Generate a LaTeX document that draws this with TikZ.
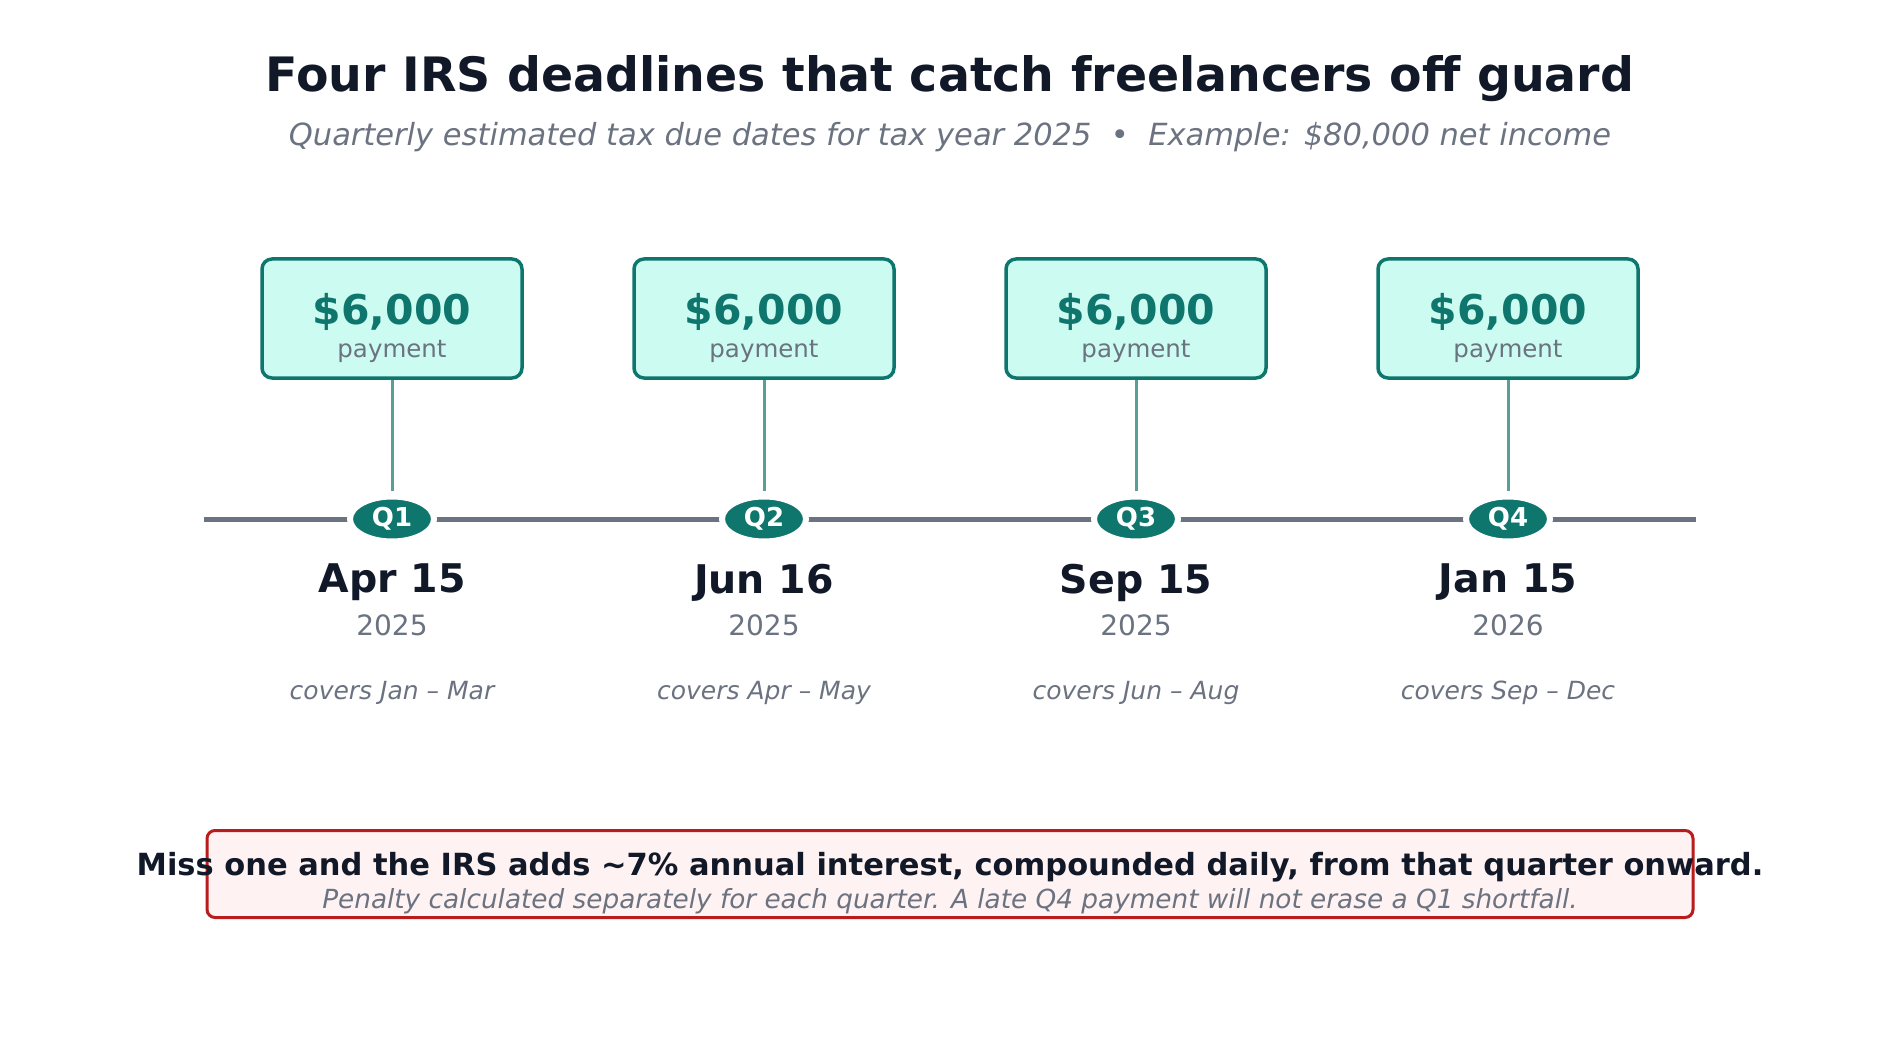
\documentclass[tikz,border=0pt]{standalone}
\usepackage{fontspec}
\setmainfont{DejaVu Sans}
\usepackage{tikz}
\usetikzlibrary{shapes.geometric}

\definecolor{ink}{HTML}{111827}
\definecolor{slate}{HTML}{6B7280}
\definecolor{tealdark}{HTML}{0F766E}
\definecolor{mint}{HTML}{CCFBF1}
\definecolor{alertred}{HTML}{B91C1C}
\definecolor{alertbg}{HTML}{FEF2F2}

\begin{document}
\begin{tikzpicture}[x=1pt,y=-1pt,
	paybox/.style={draw=tealdark, fill=mint, line width=3.5pt, rounded corners=10pt, minimum width=260pt, minimum height=119pt, inner sep=0pt},
	amount/.style={font=\bfseries\fontsize{41}{49}\selectfont, text=tealdark, inner sep=0pt},
	paylabel/.style={font=\fontsize{24.5}{29}\selectfont, text=slate, inner sep=0pt},
	qmark/.style={ellipse, fill=tealdark, draw=white, line width=6pt, minimum width=84pt, minimum height=45pt, inner sep=0pt, text=white, font=\bfseries\fontsize{26}{31}\selectfont},
	link/.style={draw=tealdark!70, line width=3pt, shorten >=3pt},
	datetext/.style={font=\bfseries\fontsize{39.5}{47}\selectfont, text=ink, inner sep=0pt},
	yeartext/.style={font=\fontsize{28}{34}\selectfont, text=slate, inner sep=0pt},
	covertext/.style={font=\itshape\fontsize{25}{30}\selectfont, text=slate, inner sep=0pt}]
	\useasboundingbox (0,0) rectangle (1900,1040);
	\def\yline{519}

	% heading
	\node[font=\bfseries\fontsize{47.4}{56}\selectfont, text=ink] (title) at (950,79) {Four IRS deadlines that catch freelancers off guard};
	\node[font=\itshape\fontsize{30.5}{36}\selectfont, text=slate] (subtitle) at (950,137) {Quarterly estimated tax due dates for tax year 2025\ \ \textbullet\ \ Example: \$80,000 net income};

	% timeline
	\path (204,\yline) coordinate (lstart);
	\path (1696,\yline) coordinate (lend);
	\draw[slate, line width=5pt] (lstart) -- (lend);

	% Q1
	\node[paybox] (box1) at (392,318.5) {};
	\node[amount] (amt1) at (392,311.5) {\$6,000};
	\node[paylabel] (pay1) at (392,351.5) {payment};
	\node[qmark] (q1) at (392,\yline) {Q1};
	\draw[link] (box1.south) -- (q1.north);
	\node[datetext] (date1) at (392,582.5) {Apr 15};
	\node[yeartext] (year1) at (392,625) {2025};
	\node[covertext] (cov1) at (392,692.5) {covers Jan -- Mar};

	% Q2
	\node[paybox] (box2) at (764,318.5) {};
	\node[amount] (amt2) at (764,311.5) {\$6,000};
	\node[paylabel] (pay2) at (764,351.5) {payment};
	\node[qmark] (q2) at (764,\yline) {Q2};
	\draw[link] (box2.south) -- (q2.north);
	\node[datetext] (date2) at (764,582.5) {Jun 16};
	\node[yeartext] (year2) at (764,625) {2025};
	\node[covertext] (cov2) at (764,692.5) {covers Apr -- May};

	% Q3
	\node[paybox] (box3) at (1136,318.5) {};
	\node[amount] (amt3) at (1136,311.5) {\$6,000};
	\node[paylabel] (pay3) at (1136,351.5) {payment};
	\node[qmark] (q3) at (1136,\yline) {Q3};
	\draw[link] (box3.south) -- (q3.north);
	\node[datetext] (date3) at (1136,582.5) {Sep 15};
	\node[yeartext] (year3) at (1136,625) {2025};
	\node[covertext] (cov3) at (1136,692.5) {covers Jun -- Aug};

	% Q4
	\node[paybox] (box4) at (1508,318.5) {};
	\node[amount] (amt4) at (1508,311.5) {\$6,000};
	\node[paylabel] (pay4) at (1508,351.5) {payment};
	\node[qmark] (q4) at (1508,\yline) {Q4};
	\draw[link] (box4.south) -- (q4.north);
	\node[datetext] (date4) at (1508,582.5) {Jan 15};
	\node[yeartext] (year4) at (1508,625) {2026};
	\node[covertext] (cov4) at (1508,692.5) {covers Sep -- Dec};

	% warning
	\node[draw=alertred, fill=alertbg, line width=3pt, rounded corners=8pt, minimum width=1486pt, minimum height=87pt] (alert) at (950,874) {};
	\node[font=\bfseries\fontsize{30.5}{36}\selectfont, text=ink] (warn) at (950,867.5) {Miss one and the IRS adds \textasciitilde7\% annual interest, compounded daily, from that quarter onward.};
	\node[font=\itshape\fontsize{26.3}{31}\selectfont, text=slate] (note) at (950,901.5) {Penalty calculated separately for each quarter. A late Q4 payment will not erase a Q1 shortfall.};
\end{tikzpicture}
\end{document}
